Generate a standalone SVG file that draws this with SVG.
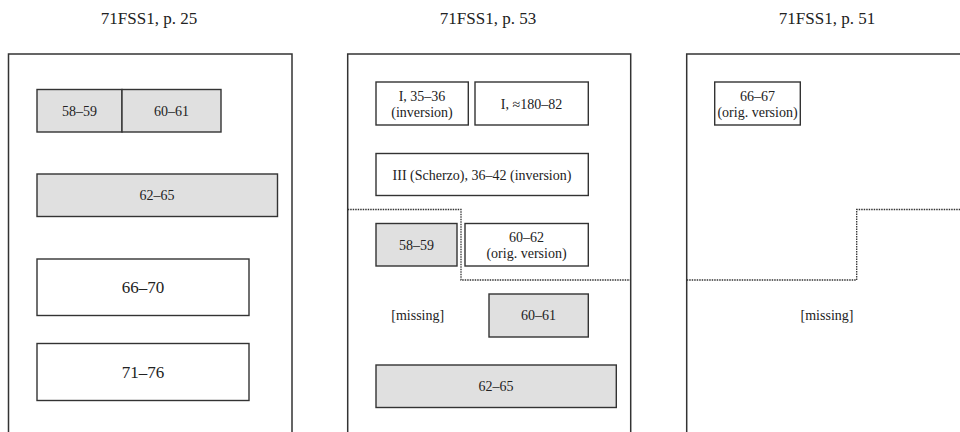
<svg xmlns="http://www.w3.org/2000/svg" width="960" height="432" viewBox="0 0 960 432">
<style>
text{font-family:"Liberation Serif","Times New Roman",serif;fill:#222;text-anchor:middle}
.t{font-size:17px}
.s{font-size:14px}
.m{font-size:17px}
.page{fill:#fff;stroke:#333;stroke-width:1.5}
.box{fill:#fff;stroke:#333;stroke-width:1.4}
.g{fill:#e0e0e0;stroke:#333;stroke-width:1.4}
.dot{fill:none;stroke:#333;stroke-width:1.3;stroke-dasharray:1.5 1}
</style>
<rect width="960" height="432" fill="#fff"/>
<g id="page25">
<text class="t" x="149" y="24">71FSS1, p. 25</text>
<rect class="page" x="8.5" y="54" width="283.5" height="400"/>
<g id="p25-58-59"><rect class="g" x="37" y="89.5" width="85" height="42.5"/><text class="s" x="79.5" y="115.5">58–59</text></g>
<g id="p25-60-61"><rect class="g" x="122" y="89.5" width="99" height="42.5"/><text class="s" x="171.5" y="115.5">60–61</text></g>
<g id="p25-62-65"><rect class="g" x="37" y="174" width="240.5" height="42.5"/><text class="s" x="157" y="200">62–65</text></g>
<g id="p25-66-70"><rect class="box" x="37" y="259" width="212" height="56.5"/><text class="m" x="143" y="293">66–70</text></g>
<g id="p25-71-76"><rect class="box" x="37" y="343.5" width="212" height="57"/><text class="m" x="143" y="377.5">71–76</text></g>
</g>
<g id="page53">
<text class="t" x="488" y="24">71FSS1, p. 53</text>
<rect class="page" x="347.7" y="54" width="283" height="400"/>
<g id="p53-I-35-36"><rect class="box" x="376" y="82" width="92.3" height="43"/><text class="s" x="422" y="100.5">I, 35–36</text><text class="s" x="422" y="117">(inversion)</text></g>
<g id="p53-I-180-82"><rect class="box" x="475" y="82" width="113.3" height="43"/><text class="s" x="531.5" y="108.5">I, ≈180–82</text></g>
<g id="p53-III"><rect class="box" x="376" y="153.5" width="212.3" height="42"/><text class="s" x="482" y="179.5">III (Scherzo), 36–42 (inversion)</text></g>
<g id="p53-58-59"><rect class="g" x="376" y="223.5" width="81" height="42.5"/><text class="s" x="416.5" y="249.5">58–59</text></g>
<g id="p53-60-62"><rect class="box" x="465" y="223.5" width="123.3" height="42.5"/><text class="s" x="526.5" y="241.5">60–62</text><text class="s" x="526.5" y="258">(orig. version)</text></g>
<g id="p53-missing"><text class="s" x="417.7" y="320">[missing]</text></g>
<g id="p53-60-61"><rect class="g" x="489" y="294" width="99.3" height="43"/><text class="s" x="538.5" y="320">60–61</text></g>
<g id="p53-62-65"><rect class="g" x="376" y="365" width="240.3" height="42.5"/><text class="s" x="496" y="391">62–65</text></g>
</g>
<g id="page51">
<text class="t" x="827" y="24">71FSS1, p. 51</text>
<rect class="page" x="686.7" y="54" width="300" height="400"/>
<g id="p51-66-67"><rect class="box" x="714.7" y="82" width="85.6" height="43"/><text class="s" x="757.5" y="100.5">66–67</text><text class="s" x="757.5" y="117">(orig. version)</text></g>
<g id="p51-missing"><text class="s" x="827" y="320">[missing]</text></g>
</g>
<g id="connectors">
<path class="dot" d="M347.7 209.5 H461 V280 H630.7"/>
<path class="dot" d="M686.7 280 H856.7 V209.5 H960"/>
</g>
</svg>
